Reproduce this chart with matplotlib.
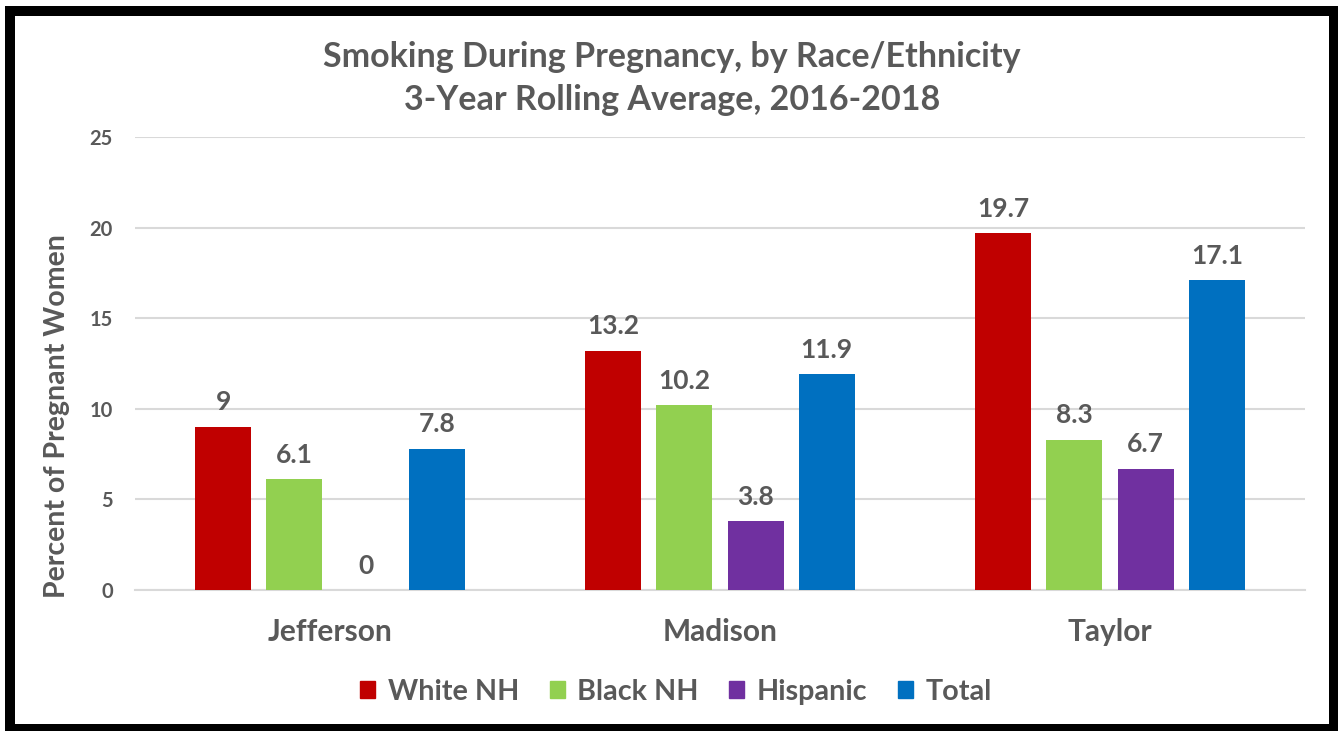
import matplotlib
matplotlib.use('Agg')
import numpy as np
import matplotlib.pyplot as plt
import matplotlib.patches as mpatches

plt.rcParams['font.family'] = ['Lato', 'DejaVu Sans']
plt.rcParams['font.weight'] = 'bold'

counties = ['Jefferson', 'Madison', 'Taylor']
groups = ['White NH', 'Black NH', 'Hispanic', 'Total']
white_nh = [9, 13.2, 19.7]
black_nh = [6.1, 10.2, 8.3]
hispanic = [0, 3.8, 6.7]
total = [7.8, 11.9, 17.1]
colors = ['#C00000', '#92D050', '#7030A0', '#0070C0']
text_gray = '#595959'

fig = plt.figure(figsize=(13.38, 7.31), dpi=100)
ax = fig.add_axes([135/1338, 1-590/731, 1170/1338, 453/731])

x = np.arange(len(counties))
bar_w = 0.144
step = 0.1825
for i, (vals, col) in enumerate(zip([white_nh, black_nh, hispanic, total], colors)):
    pos = x + (i - 1.5)*step
    ax.bar(pos, vals, width=bar_w, color=col, label=groups[i], zorder=3)
    for p, v in zip(pos, vals):
        ax.annotate(f'{v:g}', (p, v), xytext=(0, 9), textcoords='offset points',
                    ha='center', va='bottom', fontsize=19, color=text_gray,
                    fontweight='bold')

ax.set_xlim(-0.5, 2.5)
ax.set_ylim(0, 25)
ax.set_yticks([0, 5, 10, 15, 20, 25])
ax.yaxis.grid(True, color='#D9D9D9', linewidth=1.5, zorder=0)
ax.set_xticks(x)
ax.set_xticklabels(counties, fontsize=21.5, color=text_gray)
ax.tick_params(axis='x', length=0, pad=20)
ax.tick_params(axis='y', length=0, pad=16, labelsize=14.5, labelcolor=text_gray)
for s in ['top', 'right', 'left']:
    ax.spines[s].set_visible(False)
ax.spines['bottom'].set_color('#D9D9D9')
ax.spines['bottom'].set_linewidth(1.5)

fig.text(57/1338, 1-416/731, 'Percent of Pregnant Women', rotation=90,
         ha='center', va='center', fontsize=20.5, color=text_gray, fontweight='bold')

fig.text(0.502, 1-57/731, 'Smoking During Pregnancy, by Race/Ethnicity',
         ha='center', va='center', fontsize=24.5, color=text_gray, fontweight='bold')
fig.text(0.502, 1-100/731, '3-Year Rolling Average, 2016-2018',
         ha='center', va='center', fontsize=24.5, color=text_gray, fontweight='bold')

handles = [mpatches.Patch(color=c, label=g) for c, g in zip(colors, groups)]
fig.legend(handles=handles, loc='center', bbox_to_anchor=(676/1338, 1-692/731),
           ncol=4, frameon=False, fontsize=20.7, labelcolor=text_gray,
           handlelength=0.52, handleheight=0.52, handletextpad=0.45,
           columnspacing=1.05)

# black frame around the chart
fig.add_artist(mpatches.Rectangle((10/1338, 2/731), 1324/1338, 718/731,
                                  transform=fig.transFigure, fill=False,
                                  edgecolor='black', linewidth=7.2))

fig.savefig('out.png', dpi=100, facecolor='white')
